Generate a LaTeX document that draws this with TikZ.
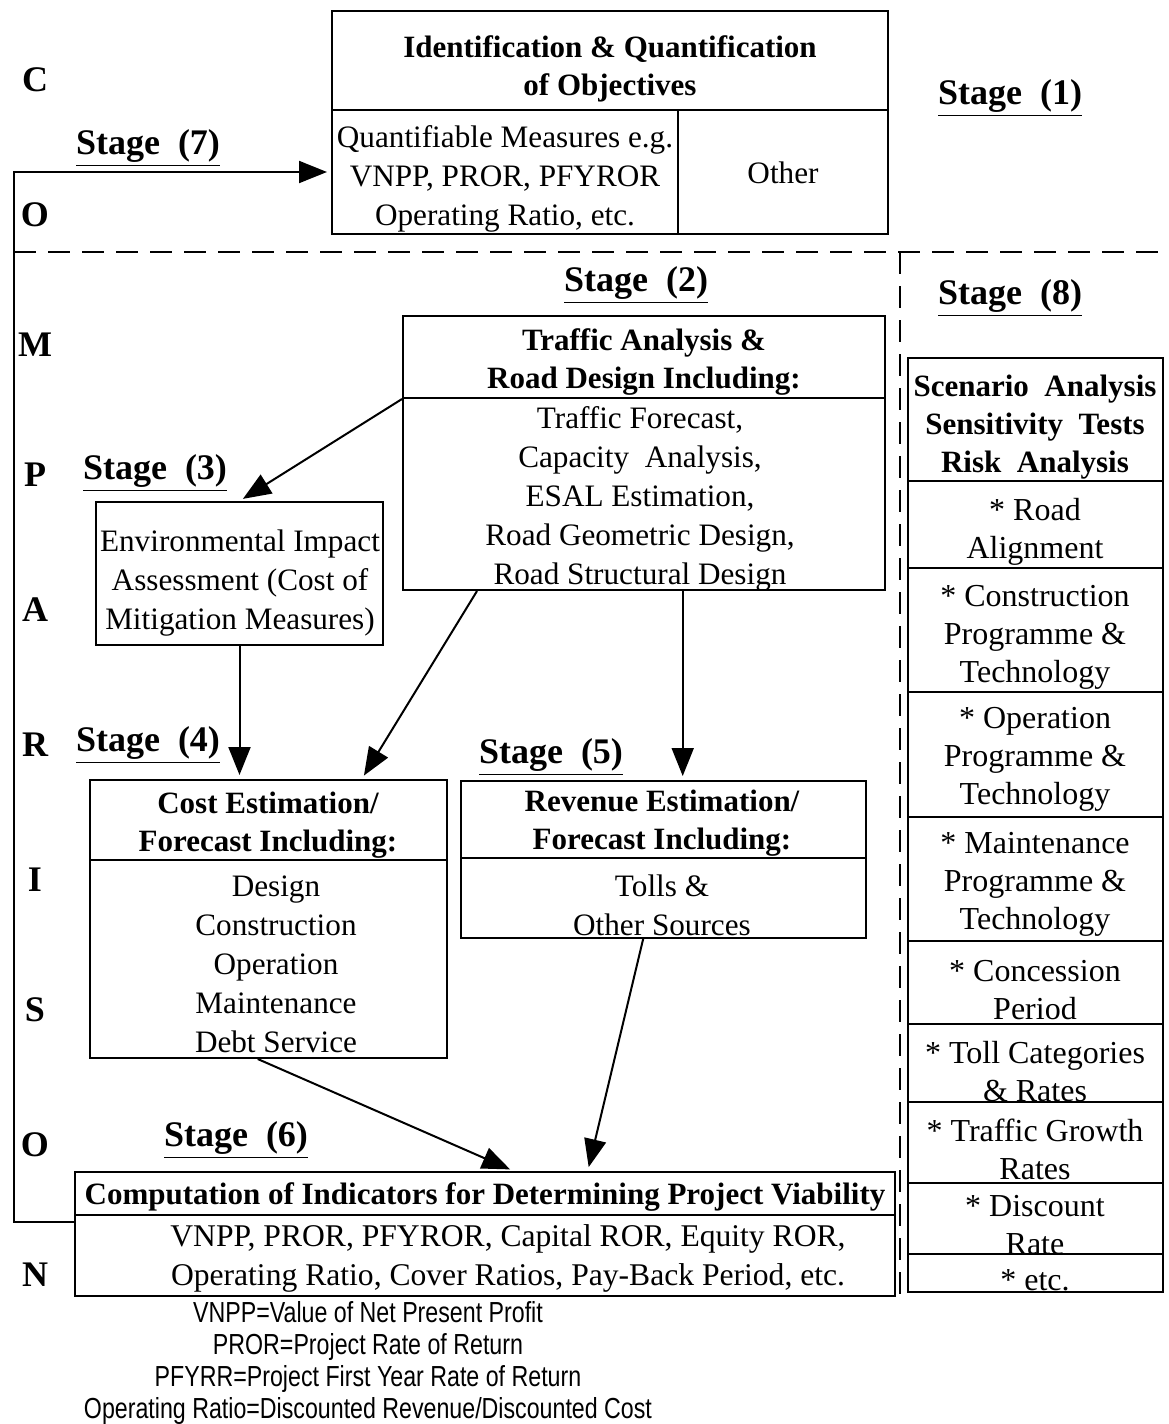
\documentclass[tikz,border=0pt]{standalone}
\usepackage{fontspec}
\setmainfont{Liberation Serif}
\newfontfamily\notefont[FakeStretch=0.8]{Liberation Sans}
\usetikzlibrary{arrows.meta,calc,fit,positioning}

\begin{document}
\begin{tikzpicture}[x=0.5pt,y=-0.5pt,
    cell/.style={draw, line width=1pt, inner sep=0pt},
    txt/.style={inner sep=0pt, yshift=-1.5pt, align=center, font=\fontsize{15.6}{19.5}\selectfont},
    hdr/.style={txt, font=\fontsize{15.5}{19}\selectfont\bfseries},
    sidetxt/.style={txt, font=\fontsize{16}{19}\selectfont},
    stagelbl/.style={font=\fontsize{18}{20}\selectfont\bfseries},
    arr/.style={line width=1pt, -{Triangle[length=14pt,width=11pt]}, shorten >=2pt},
    fence/.style={line width=0.9pt, dash pattern=on 11pt off 6pt}]
    \useasboundingbox (0,0) rectangle (1168,1424);

    % Side word
    \foreach \ch/\yy [count=\i] in {C/80, O/215, M/345, P/475, A/610, R/745, I/880, S/1010, O/1145, N/1275}
        \node[stagelbl] (ltr\i) at (35,\yy) {\ch};

    % Stage labels
    \node[stagelbl] (st1) at (1010,98) {\underline{Stage\ \ (1)}};
    \node[stagelbl] (st2) at (636,285) {\underline{Stage\ \ (2)}};
    \node[stagelbl] (st3) at (155,473) {\underline{Stage\ \ (3)}};
    \node[stagelbl] (st4) at (148,745) {\underline{Stage\ \ (4)}};
    \node[stagelbl] (st5) at (551,757) {\underline{Stage\ \ (5)}};
    \node[stagelbl] (st6) at (236,1140) {\underline{Stage\ \ (6)}};
    \node[stagelbl] (st7) at (148,148) {\underline{Stage\ \ (7)}};
    \node[stagelbl] (st8) at (1010,298) {\underline{Stage\ \ (8)}};

    % Stage 1: objectives
    \node[cell, fit={(332,11)(888,110)}] (objhead) {};
    \node[cell, fit={(332,110)(678,234)}] (objquant) {};
    \node[cell, fit={(678,110)(888,234)}] (objother) {};
    \node[hdr] (objheadtxt) at (610,66) {Identification \& Quantification\\of Objectives};
    \node[txt] (objquanttxt) at (505,176) {Quantifiable Measures e.g.\\VNPP, PROR, PFYROR\\Operating Ratio, etc.};
    \node[txt] (objothertxt) at (783,170) {Other};

    % Stage 2: traffic & road design
    \node[cell, fit={(403,316)(885,398)}] (trafhead) {};
    \node[cell, fit={(403,398)(885,590)}] (trafbody) {};
    \node[hdr] (trafheadtxt) at (644,359) {Traffic Analysis \&\\Road Design Including:};
    \node[txt] (trafbodytxt) at (640,495.5) {Traffic Forecast,\\Capacity\ \ Analysis,\\ESAL Estimation,\\Road Geometric Design,\\Road Structural Design};

    % Stage 3: environment
    \node[cell, fit={(96,502)(383,645)}] (env) {};
    \node[txt] (envtxt) at (240,580) {Environmental Impact\\Assessment (Cost of\\Mitigation Measures)};

    % Stage 4: cost
    \node[cell, fit={(90,780)(447,860)}] (costhead) {};
    \node[cell, fit={(90,860)(447,1058)}] (costbody) {};
    \node[hdr] (costheadtxt) at (268,822) {Cost Estimation/\\Forecast Including:};
    \node[txt] (costbodytxt) at (276,961.5) {Design\\Construction\\Operation\\Maintenance\\Debt Service};

    % Stage 5: revenue
    \node[cell, fit={(461,781)(866,858)}] (revhead) {};
    \node[cell, fit={(461,858)(866,938)}] (revbody) {};
    \node[hdr] (revheadtxt) at (662,820.5) {Revenue Estimation/\\Forecast Including:};
    \node[txt] (revbodytxt) at (662,902) {Tolls \&\\Other Sources};

    % Stage 6: indicators
    \node[cell, fit={(75,1172)(895,1215)}] (comphead) {};
    \node[cell, fit={(75,1215)(895,1296)}] (compbody) {};
    \node[hdr] (compheadtxt) at (485,1194) {Computation of Indicators for Determining Project Viability};
    \node[txt, font=\fontsize{15.8}{19.5}\selectfont] (compbodytxt) at (508,1255.5) {VNPP, PROR, PFYROR, Capital ROR, Equity ROR,\\Operating Ratio, Cover Ratios, Pay-Back Period, etc.};

    % Stage 8: scenario column
    \node[cell, fit={(908,358)(1163,481)}] (scenhead) {};
    \node[hdr] (scenheadtxt) at (1035,424.5) {Scenario\ \ Analysis\\Sensitivity\ \ Tests\\Risk\ \ Analysis};
    \foreach \ya/\yb/\yt/\txt [count=\i] in {
        481/568/529/{* Road\\Alignment},
        568/692/634/{* Construction\\Programme \&\\Technology},
        692/817/756.5/{* Operation\\Programme \&\\Technology},
        817/941/881/{* Maintenance\\Programme \&\\Technology},
        941/1024/987.5/{* Concession\\Period},
        1024/1102/1068.5/{* Toll Categories\\\& Rates},
        1102/1183/1146.5/{* Traffic Growth\\Rates},
        1183/1254/1222/{* Discount\\Rate},
        1254/1292/1277/{* etc.}}
    {
        \node[cell, fit={(908,\ya)(1163,\yb)}] (scen\i) {};
        \node[sidetxt] (scentxt\i) at (1035,\yt) {\txt};
    }

    % Dashed fences
    \draw[fence] (14,252) -- (1168,252);
    \draw[fence] (900,252) -- (900,1296);

    % Flow arrows
    \draw[arr] (trafhead.south west) -- (env.north);
    \draw[arr] (env.south) -- (env.south |- costhead.north);
    \draw[arr] ($(trafbody.south west)!0.155!(trafbody.south east)$) -- ($(costhead.north west)!0.76!(costhead.north east)$);
    \coordinate (revdrop) at ($(trafbody.south west)!0.58!(trafbody.south east)$);
    \draw[arr] (revdrop) -- (revdrop |- revhead.north);
    \draw[arr] ($(costbody.south west)!0.47!(costbody.south east)$) -- ($(comphead.north west)!0.535!(comphead.north east)$);
    \draw[arr] ($(revbody.south west)!0.45!(revbody.south east)$) -- ($(comphead.north west)!0.625!(comphead.north east)$);

    % Stage 7 feedback
    \coordinate (fbk) at (14,1222);
    \draw[arr] (compbody.west |- fbk) -- (fbk) |- (objquant.west);

    % Notes
    \node[font=\notefont\fontsize{14.5}{16}\selectfont, align=center] (notes) at (368,1363) {VNPP=Value of Net Present Profit\\PROR=Project Rate of Return\\PFYRR=Project First Year Rate of Return\\Operating Ratio=Discounted Revenue/Discounted Cost};
\end{tikzpicture}
\end{document}
